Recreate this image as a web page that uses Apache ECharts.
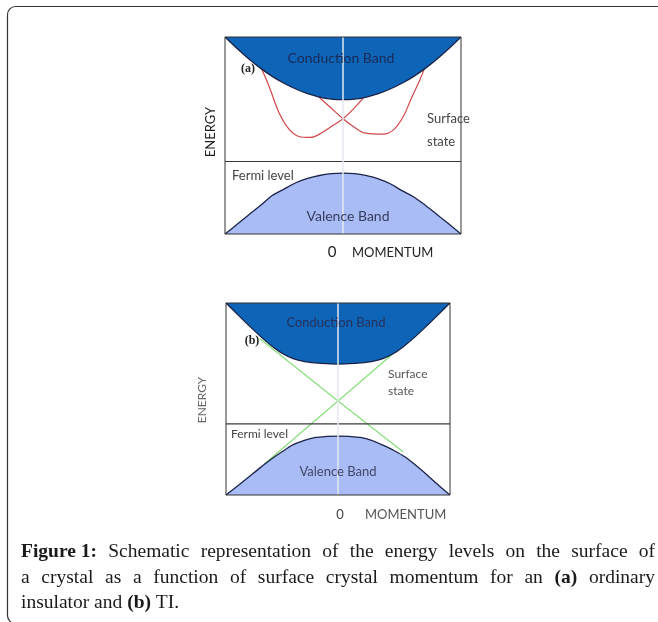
<!DOCTYPE html>
<html>
<head>
<meta charset="utf-8">
<script src="https://cdn.jsdelivr.net/npm/echarts@6/dist/echarts.min.js"></script>
<style>
html,body{margin:0;padding:0;background:#fff;}
#c{width:658px;height:622px;}
</style>
</head>
<body>
<div id="c"></div>
<script>
// ---- Data (momentum x in [-1,1], energy y in [0,10]) ----
const momentum = [-1,-0.9,-0.8,-0.7,-0.6,-0.5,-0.4,-0.3,-0.2,-0.1,0,0.1,0.2,0.3,0.4,0.5,0.6,0.7,0.8,0.9,1];
// Panel (a): ordinary insulator
const condAValues = [10,9.43,8.9,8.42,8.0,7.65,7.36,7.12,6.95,6.85,6.82,6.85,6.95,7.12,7.36,7.65,8.0,8.42,8.9,9.43,10];
const valAValues  = [0,0.48,0.97,1.45,1.95,2.28,2.6,2.82,2.97,3.06,3.09,3.06,2.96,2.8,2.55,2.2,1.88,1.45,0.98,0.49,0];
const fermiA = 3.68;
const surfA1 = [[-0.71,8.65],[-0.626,7.49],[-0.542,6.15],[-0.458,5.32],[-0.374,4.95],[-0.275,4.9],[-0.177,5.15],[-0.093,5.48],[0,5.85],[0.104,6.45],[0.2,7.1]];
const surfA2 = [[-0.24,7.15],[-0.12,6.5],[0,5.85],[0.09,5.45],[0.19,5.12],[0.343,5.07],[0.43,5.3],[0.51,5.95],[0.58,6.9],[0.65,7.8],[0.72,8.85]];
// Panel (b): topological insulator
const condBValues = [10,9.42,8.85,8.3,7.8,7.38,7.1,6.95,6.88,6.84,6.82,6.84,6.88,6.95,7.1,7.38,7.8,8.3,8.85,9.42,10];
const valBValues  = [0,0.45,0.92,1.4,1.85,2.25,2.62,2.85,3.0,3.05,3.07,3.05,3.0,2.85,2.6,2.32,1.98,1.52,1.02,0.5,0];
const fermiB = 3.70;
const surfB1 = [[-0.7,8.15],[0,4.9],[0.58,2.25]];
const surfB2 = [[-0.66,1.6],[0,4.9],[0.6,7.9]];
const xRange = [-1, 1];
const yRange = [0, 10];
// ---- Text ----
const captionLines = [
  [["Figure 1:",true],["Schematic",false],["representation",false],["of",false],["the",false],["energy",false],["levels",false],["on",false],["the",false],["surface",false],["of",false]],
  [["a",false],["crystal",false],["as",false],["a",false],["function",false],["of",false],["surface",false],["crystal",false],["momentum",false],["for",false],["an",false],["(a)",true],["ordinary",false]],
  [["insulator",false],["and",false],["(b)",true],["TI.",false]]
];

const pairs = vals => momentum.map((m,i) => [m, vals[i]]);

const chart = echarts.init(document.getElementById('c'), null, {renderer:'canvas'});
const DARK = '#0e64b6', LIGHT = '#aabcf5', EDGE = '#1b2448';
const sans = 'Lato, "Open Sans", sans-serif';

function band(data, grid, origin, color){
  return {type:'line', xAxisIndex:grid, yAxisIndex:grid, data:data, smooth:0.3, symbol:'none',
    lineStyle:{color:EDGE, width:1.3}, areaStyle:{color:color, opacity:1, origin:origin}, z:3, silent:true};
}
function line(data, grid, color, w, z){
  return {type:'line', xAxisIndex:grid, yAxisIndex:grid, data:data, symbol:'none', lineStyle:{color:color, width:w}, z:z, silent:true};
}
function sline(data, grid, color, w){
  return {type:'line', xAxisIndex:grid, yAxisIndex:grid, data:data, smooth:0.35, symbol:'none', lineStyle:{color:color, width:w}, z:2, silent:true};
}

const series = [
  sline(surfA1,0,'#d0474a',1.2), sline(surfA2,0,'#d0474a',1.2),
  band(pairs(condAValues),0,'end',DARK), band(pairs(valAValues),0,'start',LIGHT),
  line([[xRange[0],fermiA],[xRange[1],fermiA]],0,'#3a3a3a',1.2,4),
  line([[0,yRange[0]],[0,yRange[1]]],0,'#e4e8ee',1.5,5),
  line(surfB1,1,'#86e07a',1.2,2), line(surfB2,1,'#86e07a',1.2,2),
  band(pairs(condBValues),1,'end',DARK), band(pairs(valBValues),1,'start',LIGHT),
  line([[xRange[0],fermiB],[xRange[1],fermiB]],1,'#3a3a3a',1.2,4),
  line([[0,yRange[0]],[0,yRange[1]]],1,'#e4e8ee',1.5,5)
];

function ax(i){ return {type:'value', gridIndex:i, min:xRange[0], max:xRange[1], show:false}; }
function ay(i){ return {type:'value', gridIndex:i, min:yRange[0], max:yRange[1], show:false}; }

// caption layout (justified)
const ctx = document.createElement('canvas').getContext('2d');
const serif = '"Liberation Serif", "DejaVu Serif", serif';
const CAP_SIZE = 19.5;
function fontOf(b){ return (b?'bold ':'') + CAP_SIZE + 'px ' + serif; }
const capGraphics = [];
const capLeft = 21, capRight = 655, capY = [552, 578, 603];
captionLines.forEach((words, li) => {
  const widths = words.map(w => { ctx.font = fontOf(w[1]); return ctx.measureText(w[0]).width; });
  const total = widths.reduce((a,b)=>a+b,0);
  ctx.font = fontOf(false);
  const normalGap = ctx.measureText(' ').width;
  const justify = li < 2;
  const gap = justify ? (capRight - capLeft - total)/(words.length-1) : normalGap;
  let x = capLeft;
  words.forEach((w,i) => {
    capGraphics.push({type:'text', x:x, y:capY[li], z:10, style:{text:w[0], x:0, y:0, fill:'#1a1a1a', font:fontOf(w[1]), textVerticalAlign:'middle', verticalAlign:'middle'}});
    x += widths[i] + gap;
  });
});

function txt(t, x, y, size, color, align, extra){
  return Object.assign({type:'text', x:x, y:y, z:10, style:{text:t, x:0, y:0, fill:color, font:size+'px '+sans,
    textAlign:align||'left', align:align||'left', textVerticalAlign:'middle', verticalAlign:'middle'}}, extra||{});
}
function btxt(t, x, y){
  return {type:'text', x:x, y:y, z:10, style:{text:t, x:0, y:0, fill:'#222', font:'bold 12px '+serif, textAlign:'center', align:'center', textVerticalAlign:'middle', verticalAlign:'middle'}};
}

const graphics = [
  {type:'rect', shape:{x:7.5, y:6.5, width:700, height:617, r:8}, style:{fill:'none', stroke:'#333', lineWidth:1.2}, z:0},
  // panel a
  txt('Conduction Band', 341, 58, 14, '#1a2b58', 'center'),
  btxt('(a)', 248, 69),
  txt('Surface', 427, 119, 13, '#444', 'left'),
  txt('state', 427, 142, 13, '#444', 'left'),
  txt('ENERGY', 211, 132, 13, '#222', 'center', {rotation:Math.PI/2}),
  txt('Fermi level', 232, 176, 13, '#444', 'left'),
  txt('Valence Band', 348, 216, 14, '#363c5e', 'center'),
  txt('0', 332, 252, 15, '#222', 'center'),
  txt('MOMENTUM', 352, 253, 13, '#222', 'left'),
  // panel b
  txt('Conduction Band', 336, 323, 13, '#26325e', 'center'),
  btxt('(b)', 252, 341),
  txt('Surface', 388, 374, 12, '#555', 'left'),
  txt('state', 388, 391, 12, '#555', 'left'),
  txt('ENERGY', 202, 400, 12, '#666', 'center', {rotation:Math.PI/2}),
  txt('Fermi level', 231, 434, 12, '#444', 'left'),
  txt('Valence Band', 338, 472, 13, '#414766', 'center'),
  txt('0', 340, 515, 13, '#444', 'center'),
  txt('MOMENTUM', 365, 515, 13, '#555', 'left')
].concat(capGraphics);

chart.setOption({
  animation:false,
  grid:[
    {left:225, top:37, width:236, height:197, show:true, borderColor:'#333', borderWidth:1, backgroundColor:'transparent', z:8},
    {left:226, top:303, width:224, height:192, show:true, borderColor:'#333', borderWidth:1, backgroundColor:'transparent', z:8}
  ],
  xAxis:[ax(0), ax(1)],
  yAxis:[ay(0), ay(1)],
  series:series,
  graphic:graphics
});
</script>
</body>
</html>
